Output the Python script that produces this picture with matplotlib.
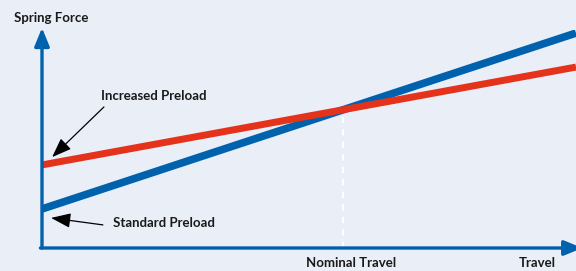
import matplotlib
matplotlib.use("Agg")
import matplotlib.pyplot as plt
import numpy as np

# schematic values (arbitrary units)
travel = [0.0, 10.0]
standard_preload = [1.79, 9.86]
increased_preload = [3.81, 8.30]
nominal_travel = 5.64

BG = "#e9eef7"
BLUE = "#0061ad"
RED = "#e4321b"
plt.rcParams["font.family"] = ["Lato", "DejaVu Sans"]

fig = plt.figure(figsize=(5.76, 2.71), dpi=100, facecolor=BG)
ax = fig.add_axes([42 / 576, 23 / 271, 534 / 576, 218 / 271])
ax.set_facecolor("none")
ax.set_xlim(0, 10)
ax.set_ylim(0, 10)
for s in ax.spines.values():
    s.set_visible(False)
ax.set_xticks([])
ax.set_yticks([])

# dashed marker at nominal travel
y_nom = np.interp(nominal_travel, travel, standard_preload)
ax.plot([nominal_travel, nominal_travel], [0, y_nom], color="white",
        linestyle=(0, (3, 3)), linewidth=1.5, zorder=1)

ax.plot(travel, standard_preload, color=BLUE, linewidth=5.5,
        solid_capstyle="butt", zorder=2)
ax.plot(travel, increased_preload, color=RED, linewidth=5.0,
        solid_capstyle="butt", zorder=3)

# axes with arrow heads
arrow_kw = dict(arrowstyle="-|>,head_length=1.1,head_width=0.45",
                color=BLUE, linewidth=2.4, shrinkA=0, shrinkB=0)
ax.annotate("", xy=(0, 10.1), xytext=(0, 0), arrowprops=arrow_kw,
            annotation_clip=False, zorder=4)
ax.annotate("", xy=(10.12, 0), xytext=(-0.03, 0), arrowprops=arrow_kw,
            annotation_clip=False, zorder=4)

text_kw = dict(fontsize=9.5, fontweight="bold", color="#1a1a1a",
               ha="center", va="center", clip_on=False)
ax.text(0.17, 10.55, "Spring Force", **text_kw)
ax.text(5.79, -0.69, "Nominal Travel", **text_kw)
ax.text(9.27, -0.69, "Travel", **text_kw)

label_arrow = dict(arrowstyle="-|>,head_length=1.2,head_width=0.45",
                   color="black", linewidth=0.9, shrinkA=0, shrinkB=0)
ax.annotate("", xy=(0.19, 4.17), xytext=(1.16, 6.47),
            arrowprops=label_arrow, zorder=5)
ax.text(2.09, 6.97, "Increased Preload", **text_kw)
ax.annotate("", xy=(0.17, 1.38), xytext=(1.14, 1.06),
            arrowprops=label_arrow, zorder=5)
ax.text(2.28, 1.15, "Standard Preload", **text_kw)

fig.savefig("out.png", dpi=100, facecolor=BG)
